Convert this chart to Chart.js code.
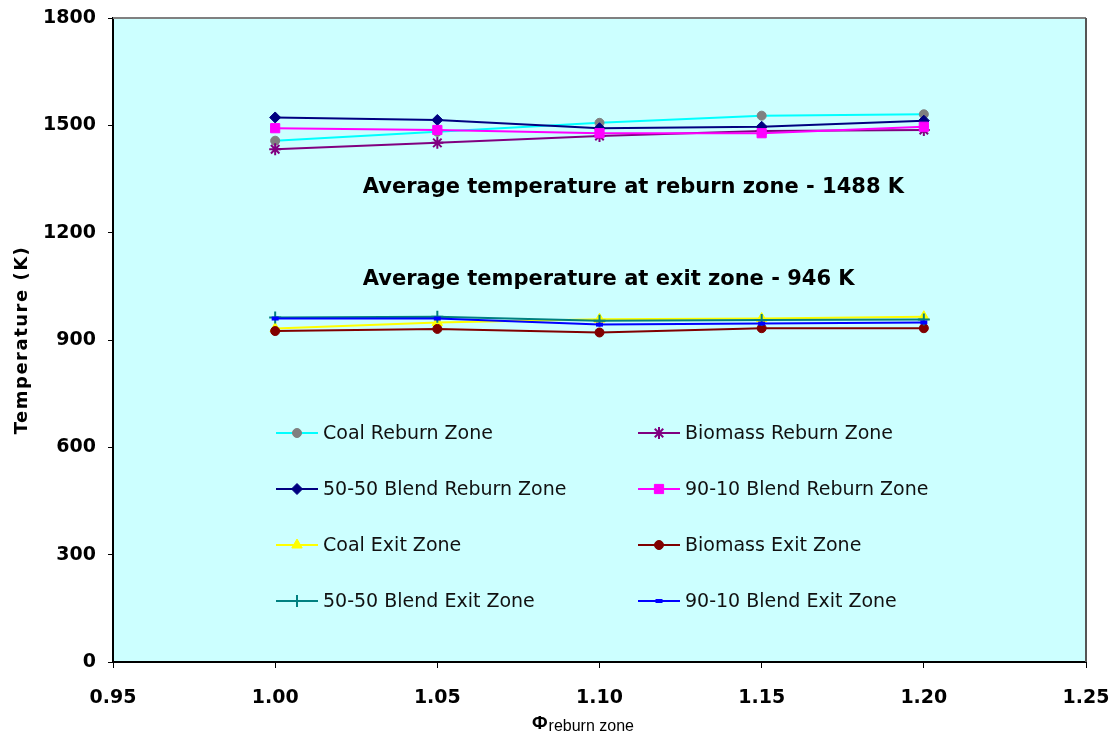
<!DOCTYPE html>
<html>
<head>
<meta charset="utf-8">
<script src="https://cdn.jsdelivr.net/npm/chart.js@4/dist/chart.umd.min.js"></script>
<style>
  html, body { margin: 0; padding: 0; background: #fff; }
  #wrap { width: 1117px; height: 735px; }
</style>
</head>
<body>
<div id="wrap"><canvas id="chart" width="1117" height="735"></canvas></div>
<script>
// equivalence ratio in the reburn zone
const phi = [1.00, 1.05, 1.10, 1.15, 1.20];

// temperatures (K)
const coalReburn = [1457, 1482, 1507, 1527, 1531];
const biomassReburn = [1433, 1451, 1470, 1484, 1487];
const blend5050Reburn = [1522, 1515, 1492, 1496, 1513];
const blend9010Reburn = [1492, 1487, 1478, 1478, 1496];
const coalExit = [932, 949, 958, 960, 965];
const biomassExit = [925, 931, 921, 933, 933];
const blend5050Exit = [963, 965, 954, 956, 957];
const blend9010Exit = [960, 960, 943, 946, 949];

const xTicks = [0.95, 1.00, 1.05, 1.10, 1.15, 1.20, 1.25];

const seriesNames = [
  "Coal Reburn Zone", "Biomass Reburn Zone",
  "50-50 Blend Reburn Zone", "90-10 Blend Reburn Zone",
  "Coal Exit Zone", "Biomass Exit Zone",
  "50-50 Blend Exit Zone", "90-10 Blend Exit Zone"
];

// text notes: [x, y, text] in data units
const notes = [
  [1.027, 1325, "Average temperature at reburn zone - 1488 K"],
  [1.027, 1068, "Average temperature at exit zone - 946 K"]
];

function series(i, values, line, point, style, radius) {
  return {
    label: seriesNames[i],
    data: phi.map((x, k) => ({ x: x, y: values[k] })),
    borderColor: line,
    borderWidth: 2,
    backgroundColor: point,
    pointBackgroundColor: point,
    pointBorderColor: point,
    pointBorderWidth: style === "star" || style === "cross" ? 2 : (style === "line" ? 4 : 1),
    pointStyle: style,
    pointRadius: radius,
    tension: 0,
    order: 8 - i
  };
}

const datasets = [
  series(0, coalReburn, "#00FFFF", "#808080", "circle", 4.5),
  series(1, biomassReburn, "#800080", "#800080", "star", 6),
  series(2, blend5050Reburn, "#000080", "#000080", "rectRot", 5.5),
  series(3, blend9010Reburn, "#FF00FF", "#FF00FF", "rect", 6.5),
  series(4, coalExit, "#FFFF00", "#FFFF00", "triangle", 6),
  series(5, biomassExit, "#800000", "#800000", "circle", 4.5),
  series(6, blend5050Exit, "#008080", "#008080", "cross", 6),
  series(7, blend9010Exit, "#0000FF", "#0000FF", "line", 3.5)
];

const decor = {
  id: "decor",
  beforeDraw(chart) {
    const { ctx, chartArea: a } = chart;
    ctx.save();
    ctx.fillStyle = "#CCFFFF";
    ctx.fillRect(a.left, a.top, a.right - a.left, a.bottom - a.top);
    ctx.restore();
  },
  afterDraw(chart) {
    const { ctx, chartArea: a, scales } = chart;
    ctx.save();

    // frame on top and right
    ctx.strokeStyle = "#808080";
    ctx.lineWidth = 2;
    ctx.beginPath();
    ctx.moveTo(a.left, a.top);
    ctx.lineTo(a.right, a.top);
    ctx.stroke();
    ctx.strokeStyle = "#555555";
    ctx.beginPath();
    ctx.moveTo(a.right, a.top);
    ctx.lineTo(a.right, a.bottom);
    ctx.stroke();

    // notes
    ctx.fillStyle = "#000";
    ctx.font = "bold 21px 'DejaVu Sans', sans-serif";
    ctx.textBaseline = "middle";
    ctx.textAlign = "left";
    notes.forEach(([x, y, t]) => {
      ctx.fillText(t, scales.x.getPixelForValue(x), scales.y.getPixelForValue(y));
    });

    // legend, two columns
    ctx.font = "19px 'DejaVu Sans', sans-serif";
    chart.data.datasets.forEach((ds, i) => {
      const col = i % 2, row = Math.floor(i / 2);
      const x0 = a.left + 163 + col * 362;
      const y0 = a.top + 415 + row * 56;
      ctx.strokeStyle = ds.borderColor;
      ctx.lineWidth = 2;
      ctx.beginPath();
      ctx.moveTo(x0, y0);
      ctx.lineTo(x0 + 42, y0);
      ctx.stroke();
      ctx.fillStyle = ds.pointBackgroundColor;
      ctx.strokeStyle = ds.pointBorderColor;
      ctx.lineWidth = ds.pointBorderWidth;
      Chart.helpers.drawPoint(ctx, {
        pointStyle: ds.pointStyle,
        radius: ds.pointRadius,
        borderWidth: ds.pointBorderWidth,
        rotation: 0
      }, x0 + 21, y0);
      ctx.fillStyle = "#111";
      ctx.fillText(ds.label, x0 + 47, y0 + 1);
    });

    // y axis title
    ctx.save();
    ctx.translate(22, (a.top + a.bottom) / 2);
    ctx.rotate(-Math.PI / 2);
    ctx.textAlign = "center";
    ctx.font = "bold 18px 'DejaVu Sans', sans-serif";
    ctx.letterSpacing = "1.5px";
    ctx.fillStyle = "#000";
    ctx.fillText("Temperature (K)", 0, 0);
    ctx.restore();

    // x axis title: Phi with subscript
    ctx.fillStyle = "#000";
    ctx.textBaseline = "alphabetic";
    ctx.font = "bold 19px 'Liberation Sans', sans-serif";
    const phiW = ctx.measureText("\u03A6").width;
    ctx.fillText("\u03A6", 532, 729);
    ctx.font = "16px 'Liberation Sans', sans-serif";
    ctx.fillText("reburn zone", 532 + phiW + 1, 731);

    ctx.restore();
  }
};

new Chart(document.getElementById("chart"), {
  type: "line",
  data: { datasets: datasets },
  options: {
    responsive: false,
    animation: false,
    layout: { padding: { top: 18, right: 31, left: 0, bottom: 0 } },
    plugins: {
      legend: { display: false },
      tooltip: { enabled: false }
    },
    scales: {
      x: {
        type: "linear",
        min: 0.95,
        max: 1.25,
        afterFit(scale) {
          scale.height = 73;
          scale.paddingLeft = 0;
          scale.paddingRight = 0;
        },
        afterBuildTicks(scale) {
          scale.ticks = xTicks.map(v => ({ value: v }));
        },
        ticks: {
          color: "#000",
          font: { family: "'DejaVu Sans', sans-serif", size: 19, weight: "bold" },
          padding: 19,
          maxRotation: 0,
          autoSkip: false,
          callback: v => v.toFixed(2)
        },
        grid: { drawOnChartArea: false, drawTicks: true, tickLength: 6, tickColor: "#000" },
        border: { color: "#000", width: 2 }
      },
      y: {
        min: 0,
        max: 1800,
        afterFit(scale) {
          scale.width = 113;
          scale.paddingTop = 0;
          scale.paddingBottom = 0;
        },
        ticks: {
          stepSize: 300,
          color: "#000",
          font: { family: "'DejaVu Sans', sans-serif", size: 19, weight: "bold" },
          padding: 12,
          callback: v => String(v)
        },
        grid: { drawOnChartArea: false, drawTicks: true, tickLength: 5, tickColor: "#000" },
        border: { color: "#000", width: 2 }
      }
    }
  },
  plugins: [decor]
});
</script>
</body>
</html>
